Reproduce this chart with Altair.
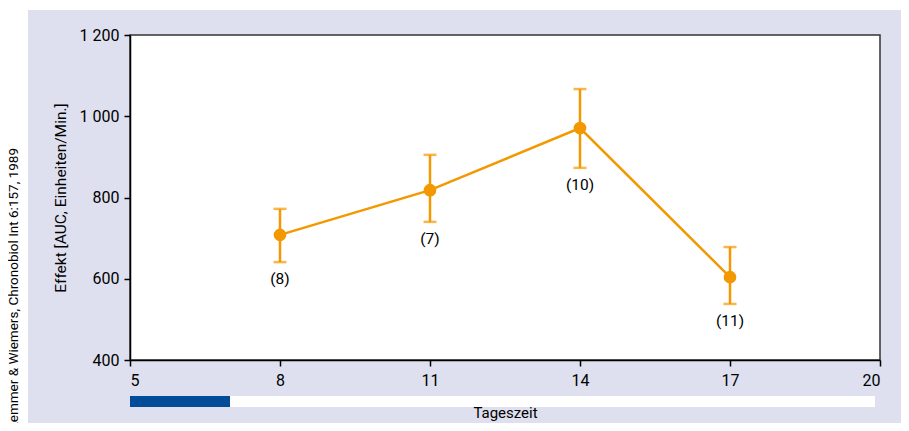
import altair as alt
import pandas as pd

# ---- data ----
hours = [8, 11, 14, 17]
effect = [708, 818, 971, 604]
err_low = [641, 740, 873, 538]
err_high = [772, 905, 1067, 678]
n_labels = ["(8)", "(7)", "(10)", "(11)"]

strip_start = [5, 7]
strip_end = [7, 19.9]
strip_color = ["#004C99", "#FFFFFF"]

x_ticks = [5, 8, 11, 14, 17, 20]
y_ticks = [400, 600, 800, 1000, 1200]

source_text = "Lemmer & Wiemers, Chronobiol Int  6:157, 1989"

ORANGE = "#F39800"
LAVENDER = "#DFE0EF"
FONT = "Roboto"

df = pd.DataFrame({"h": hours, "v": effect, "lo": err_low, "hi": err_high, "lab": n_labels})
strips = pd.DataFrame({"s": strip_start, "e": strip_end, "c": strip_color})
one = pd.DataFrame({"t": [source_text]})

W, H = 750, 325

xs = alt.Scale(domain=[5, 20], nice=False, zero=False)
ys = alt.Scale(domain=[400, 1200], nice=False, zero=False)

x_axis = alt.Axis(values=x_ticks, title="Tageszeit", grid=False, tickSize=6,
                  labelPadding=6, titlePadding=17, labelFontSize=16, titleFontSize=15,
                  domainColor="#000", tickColor="#000", labelColor="#000",
                  titleColor="#000", titleFontWeight="normal", domainWidth=1.5, tickWidth=1.5)
y_axis = alt.Axis(values=y_ticks, title="Effekt [AUC, Einheiten/Min.]", grid=False,
                  tickSize=6, labelPadding=5, titlePadding=11, labelFontSize=16,
                  titleFontSize=15.5, domainColor="#000", tickColor="#000",
                  labelColor="#000", titleColor="#000", titleFontWeight="normal",
                  domainWidth=1.5, tickWidth=1.5,
                  labelExpr="replace(format(datum.value, ','), ',', ' ')")

# white margins left/top (outside the lavender panel)
white_left = alt.Chart(one).mark_rect(color="white").encode(
    x=alt.value(-122), x2=alt.value(-102), y=alt.value(-27), y2=alt.value(400))
white_top = alt.Chart(one).mark_rect(color="white").encode(
    x=alt.value(-122), x2=alt.value(W + 40), y=alt.value(-27), y2=alt.value(-25))

strip = alt.Chart(strips).mark_rect().encode(
    x=alt.X("s:Q", scale=xs, axis=x_axis),
    x2="e:Q",
    y=alt.value(H + 36), y2=alt.value(H + 47),
    color=alt.Color("c:N", scale=None, legend=None))

line = alt.Chart(df).mark_line(color=ORANGE, strokeWidth=2.5).encode(
    x=alt.X("h:Q", scale=xs, axis=x_axis),
    y=alt.Y("v:Q", scale=ys, axis=y_axis))

bars = alt.Chart(df).mark_rule(color=ORANGE, strokeWidth=2.5).encode(
    x=alt.X("h:Q", scale=xs), y=alt.Y("lo:Q", scale=ys), y2="hi:Q")

cap_lo = alt.Chart(df).mark_tick(color=ORANGE, orient="horizontal", size=13, thickness=2.5).encode(
    x=alt.X("h:Q", scale=xs), y=alt.Y("lo:Q", scale=ys))
cap_hi = alt.Chart(df).mark_tick(color=ORANGE, orient="horizontal", size=13, thickness=2.5).encode(
    x=alt.X("h:Q", scale=xs), y=alt.Y("hi:Q", scale=ys))

pts = alt.Chart(df).mark_circle(color=ORANGE, size=160, opacity=1).encode(
    x=alt.X("h:Q", scale=xs), y=alt.Y("v:Q", scale=ys))

labels = alt.Chart(df).mark_text(font=FONT, fontSize=15.5, color="#000", dy=17,
                                 baseline="middle").encode(
    x=alt.X("h:Q", scale=xs), y=alt.Y("lo:Q", scale=ys), text="lab:N")

src = alt.Chart(one).mark_text(font=FONT, fontSize=13.5, color="#000", angle=270,
                               align="right", baseline="middle").encode(
    x=alt.value(-116), y=alt.value(113), text="t:N")

chart = alt.layer(white_left, white_top, strip, line, bars, cap_lo, cap_hi, pts, labels, src).properties(
    width=W, height=H,
    autosize=alt.AutoSizeParams(type="none"),
    padding={"left": 122, "top": 27, "right": 21, "bottom": 63},
    background=LAVENDER,
).configure_view(
    fill="white", stroke="#333", strokeWidth=1.5
).configure_axis(
    labelFont=FONT, titleFont=FONT
)

chart.save("out.html", embed_options={"renderer": "svg", "actions": False})
